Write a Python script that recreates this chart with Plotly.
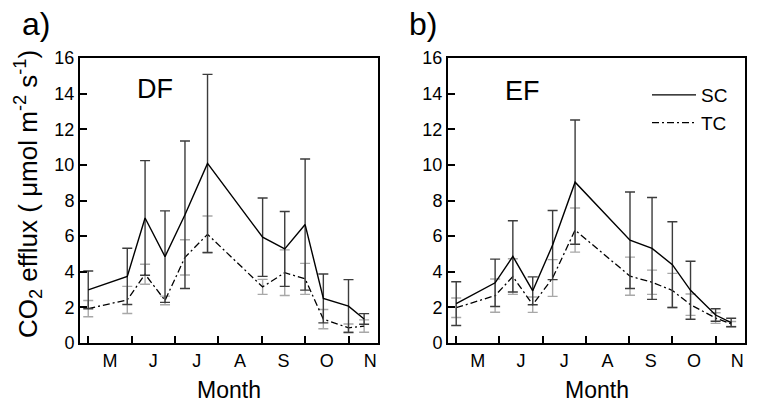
import plotly.graph_objects as go

# ---- data (month units: 5 = start of May, 6 = start of June, ...) ----
months_x = [5.0, 5.9, 6.31, 6.77, 7.23, 7.75, 9.02, 9.53, 10.0, 10.42, 11.0, 11.36]

month_labels = ["M", "J", "J", "A", "S", "O", "N"]
month_label_pos = [5.5, 6.5, 7.5, 8.5, 9.5, 10.5, 11.5]
month_tick_pos = [5, 6, 7, 8, 9, 10, 11]
y_ticks = [0, 2, 4, 6, 8, 10, 12, 14, 16]

df_sc = [2.98, 3.74, 7.02, 4.85, 7.2, 10.08, 5.94, 5.28, 6.65, 2.5, 2.07, 1.35]
df_sc_err = [1.06, 1.58, 3.22, 2.57, 4.14, 5.0, 2.2, 2.1, 3.68, 1.37, 1.49, 0.3]
df_tc = [1.93, 2.42, 3.86, 2.39, 4.81, 6.1, 3.15, 3.95, 3.6, 1.34, 0.85, 0.95]
df_tc_err = [0.46, 0.76, 0.56, 0.24, 0.99, 1.03, 0.42, 1.28, 0.87, 0.54, 0.22, 0.35]

ef_sc = [2.21, 3.38, 4.86, 2.93, 5.5, 9.03, 5.77, 5.31, 4.4, 2.96, 1.57, 1.15]
ef_sc_err = [1.23, 1.33, 2.0, 0.78, 1.94, 3.49, 2.71, 2.86, 2.41, 1.63, 0.35, 0.24]
ef_tc = [1.98, 2.66, 3.73, 2.15, 3.65, 6.34, 3.75, 3.41, 2.95, 2.15, 1.4, 1.07]
ef_tc_err = [0.55, 0.93, 1.0, 0.43, 1.03, 1.24, 1.07, 0.68, 0.96, 0.6, 0.3, 0.14]

FONT = "Liberation Sans, Arial, Helvetica, sans-serif"
W, H = 762, 409
SC_ERR = "#3c3c3c"
TC_ERR = "#a8a8a8"
DASHDOT = "7px,3px,2px,3px"

fig = go.Figure()


def add_panel(sc, sc_err, tc, tc_err, xa, ya, show_legend):
    fig.add_trace(go.Scatter(
        x=months_x, y=tc, mode="lines", name="TC",
        line=dict(color="black", width=1.3, dash=DASHDOT),
        error_y=dict(type="data", array=tc_err, symmetric=True,
                     color=TC_ERR, thickness=1.4, width=5),
        xaxis=xa, yaxis=ya, showlegend=show_legend, legendrank=2))
    fig.add_trace(go.Scatter(
        x=months_x, y=sc, mode="lines", name="SC",
        line=dict(color="black", width=1.4),
        error_y=dict(type="data", array=sc_err, symmetric=True,
                     color=SC_ERR, thickness=1.4, width=5),
        xaxis=xa, yaxis=ya, showlegend=show_legend, legendrank=1))


add_panel(df_sc, df_sc_err, df_tc, df_tc_err, "x", "y", False)
add_panel(ef_sc, ef_sc_err, ef_tc, ef_tc_err, "x2", "y2", True)

ydom = [1 - 343 / H, 1 - 58 / H]

xaxis_common = dict(
    range=[4.81, 11.68], showgrid=False, zeroline=False,
    showline=True, linecolor="black", linewidth=2, mirror=True,
    tickmode="array", tickvals=month_label_pos, ticktext=month_labels,
    ticks="", tickfont=dict(family=FONT, size=18, color="black"),
    minor=dict(tickmode="array", tickvals=month_tick_pos, ticks="inside",
               ticklen=7, tickwidth=2, tickcolor="black"),
    fixedrange=True,
)
yaxis_common = dict(
    range=[0, 16], showgrid=False, zeroline=False,
    showline=True, linecolor="black", linewidth=2, mirror=True,
    tickmode="array", tickvals=y_ticks,
    ticks="inside", ticklen=7, tickwidth=2, tickcolor="black",
    tickfont=dict(family=FONT, size=18, color="black"),
    domain=ydom, fixedrange=True,
)

fig.update_layout(
    autosize=True,
    margin=dict(l=0, r=0, t=0, b=0, autoexpand=False),
    paper_bgcolor="white", plot_bgcolor="white",
    font=dict(family=FONT, color="black"),
    xaxis=dict(xaxis_common, domain=[80 / W, 378 / W], anchor="y"),
    yaxis=dict(yaxis_common, anchor="x"),
    xaxis2=dict(xaxis_common, domain=[448 / W, 745 / W], anchor="y2"),
    yaxis2=dict(yaxis_common, anchor="x2"),
    legend=dict(x=647 / W, y=1 - 76 / H, xanchor="left", yanchor="top",
                bgcolor="rgba(0,0,0,0)", font=dict(family=FONT, size=19),
                itemwidth=44, tracegroupgap=0, traceorder="normal"),
    showlegend=True,
)

ann = [
    dict(text="a)", x=36 / W, y=1 - 24 / H, size=32),
    dict(text="b)", x=423 / W, y=1 - 24 / H, size=32),
    dict(text="Month", x=229 / W, y=1 - 390 / H, size=23),
    dict(text="Month", x=597 / W, y=1 - 390 / H, size=23),
]
for a in ann:
    fig.add_annotation(text=a["text"], x=a["x"], y=a["y"], xref="paper", yref="paper",
                       xanchor="center", yanchor="middle", showarrow=False,
                       font=dict(family=FONT, size=a["size"], color="black"))

fig.add_annotation(text="DF", x=135 / W, y=1 - 89 / H, xref="paper", yref="paper",
                   xanchor="left", yanchor="middle", showarrow=False,
                   font=dict(family=FONT, size=27, color="black"))
fig.add_annotation(text="EF", x=503 / W, y=1 - 91 / H, xref="paper", yref="paper",
                   xanchor="left", yanchor="middle", showarrow=False,
                   font=dict(family=FONT, size=27, color="black"))

fig.add_annotation(
    text="CO<sub>2</sub> efflux ( μmol m<sup>-2</sup> s<sup>-1</sup>)",
    x=28 / W, y=1 - 194 / H, xref="paper", yref="paper",
    xanchor="center", yanchor="middle", textangle=-90, showarrow=False,
    font=dict(family=FONT, size=26, color="black"))

# Pin the figure's div to the window's top-left corner at exactly 762x409
fig.write_html(
    "out.html",
    default_width=f"{W}px",
    default_height=f"{H}px; position:fixed; top:0; left:0; margin:0",
    post_script="document.body.style.margin='0px';",
)
